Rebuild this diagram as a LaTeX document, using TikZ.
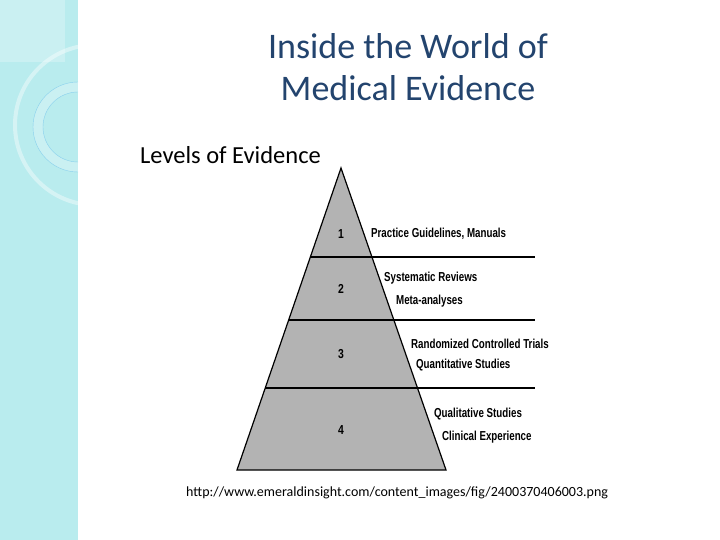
\documentclass[tikz,border=0pt]{standalone}
\usepackage{fontspec}
\setmainfont{Carlito}
\newfontfamily\lab{Liberation Sans}
\definecolor{band}{HTML}{B9ECEE}
\definecolor{ttl}{HTML}{23446E}
\definecolor{pyr}{HTML}{B3B3B3}
\begin{document}
\begin{tikzpicture}[x=1pt,y=-1pt,
  lbl/.style={font=\lab\bfseries\fontsize{13}{15}\selectfont,xscale=0.75,anchor=west,inner sep=0},
  num/.style={font=\lab\bfseries\fontsize{13}{15}\selectfont,xscale=0.8,inner sep=0},
  div/.style={line width=1.2pt}]
\useasboundingbox (0,0) rectangle (720,540);
\fill[white] (0,0) rectangle (720,540);
\begin{scope}
\clip (0,0) rectangle (78,540);
\fill[band] (0,0) rectangle (78,540);
\fill[white,opacity=0.25] (0,0) rectangle (65,62);
\draw[white,opacity=0.4,line width=4pt] (95,125) circle (80);
\draw[white,opacity=0.25,line width=10pt] (78,127) circle (40);
\draw[cyan!30!band,line width=0.4pt] (78,127) circle (45);
\draw[cyan!30!band,line width=0.4pt] (78,127) circle (35);
\end{scope}
\node[text=ttl,font=\fontsize{36}{40}\selectfont] (t1) at (408,46) {Inside the World of};
\node[text=ttl,font=\fontsize{36}{40}\selectfont] (t2) at (408,88) {Medical Evidence};
\node[anchor=west,font=\fontsize{24.5}{28}\selectfont,inner sep=0] (lv) at (140,155) {Levels of Evidence};
\fill[pyr] (341,168) -- (446,470) -- (237,470) -- cycle;
\draw[div] (341,168) -- (446,470) -- (237,470) -- cycle;
\draw[div] (310.35,257) -- (535,257);
\draw[div] (288.65,320) -- (535,320);
\draw[div] (265.2,388) -- (535,388);
\node[num] (n1) at (341,234) {1};
\node[num] (n2) at (341,289) {2};
\node[num] (n3) at (341,354) {3};
\node[num] (n4) at (341,430) {4};
\node[lbl] (a) at (371,234) {Practice Guidelines, Manuals};
\node[lbl] (b) at (384,278) {Systematic Reviews};
\node[lbl] (c) at (396,301) {Meta-analyses};
\node[lbl] (d) at (411,344) {Randomized Controlled Trials};
\node[lbl] (e) at (416,365) {Quantitative Studies};
\node[lbl] (f) at (434,414) {Qualitative Studies};
\node[lbl] (g) at (442,437) {Clinical Experience};
\node[anchor=west,font=\fontsize{14}{16}\selectfont,inner sep=0] (u) at (186,493) {http://www.emeraldinsight.com/content\_images/fig/2400370406003.png};
\end{tikzpicture}
\end{document}
